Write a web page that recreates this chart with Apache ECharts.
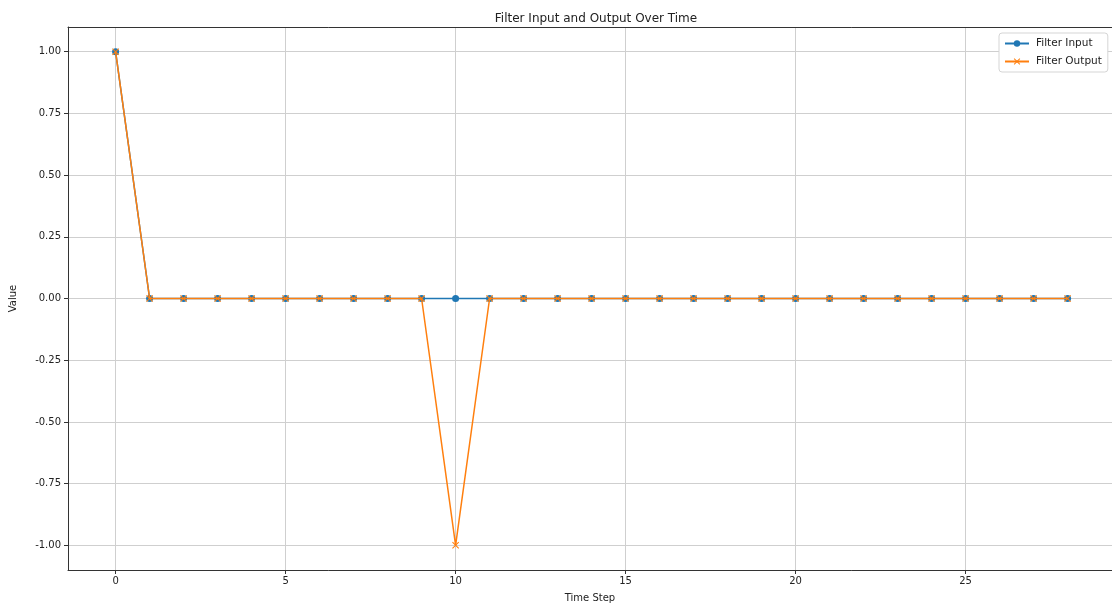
<!DOCTYPE html>
<html>
<head>
<meta charset="utf-8">
<script src="https://cdn.jsdelivr.net/npm/echarts@6/dist/echarts.min.js"></script>
<style>html,body{margin:0;padding:0;background:#fff;}#c{width:1112px;height:608px;}</style>
</head>
<body>
<div id="c"></div>
<script>
const timeSteps = [0,1,2,3,4,5,6,7,8,9,10,11,12,13,14,15,16,17,18,19,20,21,22,23,24,25,26,27,28];
const inputValues = [1,0,0,0,0,0,0,0,0,0,0,0,0,0,0,0,0,0,0,0,0,0,0,0,0,0,0,0,0];
const outputValues = [1,0,0,0,0,0,0,0,0,0,-1,0,0,0,0,0,0,0,0,0,0,0,0,0,0,0,0,0,0];
const xTicks = [0,5,10,15,20,25];
const yTicks = [-1,-0.75,-0.5,-0.25,0,0.25,0.5,0.75,1];

const font = 'DejaVu Sans';
const crossPath = 'path://M0,1L1,0L5,4L9,0L10,1L6,5L10,9L9,10L5,6L1,10L0,9L4,5Z';
const xMin = -1.4, xMax = 29.306;
const chart = echarts.init(document.getElementById('c'), null, {renderer: 'canvas'});
chart.setOption({
  animation: false,
  backgroundColor: '#fff',
  textStyle: {fontFamily: font},
  title: {
    text: 'Filter Input and Output Over Time',
    left: 591, top: 8, textAlign: 'center',
    textStyle: {fontFamily: font, fontSize: 12, fontWeight: 'normal', color: '#222'}
  },
  legend: {
    orient: 'vertical', left: 999, top: 33,
    itemWidth: 24, itemHeight: 8, itemGap: 7,
    padding: [5, 6, 5, 5],
    backgroundColor: '#fff', borderColor: '#d5d5d5', borderWidth: 1, borderRadius: 3,
    textStyle: {fontFamily: font, fontSize: 10.5, color: '#222', padding: [0,0,0,2]},
    data: ['Filter Input', 'Filter Output']
  },
  grid: {
    left: 68, top: 27, width: 1044, height: 544.5,
    show: false, containLabel: false
  },
  xAxis: [{
    type: 'value', min: xMin, max: xMax,
    name: 'Time Step', nameLocation: 'middle', nameGap: 23,
    nameTextStyle: {fontFamily: font, fontSize: 10, color: '#222', padding: [0,0,0,0]},
    axisLine: {show: true, onZero: false, lineStyle: {color: '#333', width: 1}},
    axisTick: {show: true, length: 4, customValues: xTicks, lineStyle: {color: '#333'}},
    axisLabel: {customValues: xTicks, fontSize: 10, color: '#222', margin: 6, fontFamily: font},
    splitLine: {show: true, lineStyle: {color: '#cfcfcf', width: 1}}
  }, {
    type: 'value', position: 'top', min: xMin, max: xMax,
    axisLine: {show: true, onZero: false, lineStyle: {color: '#333', width: 1}},
    axisTick: {show: false}, axisLabel: {show: false}, splitLine: {show: false}
  }],
  yAxis: {
    type: 'value', min: -1.1, max: 1.1,
    name: 'Value', nameLocation: 'middle', nameGap: 50,
    nameTextStyle: {fontFamily: font, fontSize: 10, color: '#222'},
    axisLine: {show: true, onZero: false, lineStyle: {color: '#333', width: 1}},
    axisTick: {show: true, length: 4, customValues: yTicks, lineStyle: {color: '#333'}},
    axisLabel: {customValues: yTicks, fontSize: 10, color: '#222', margin: 7, fontFamily: font,
      formatter: v => v.toFixed(2)},
    splitLine: {show: true, lineStyle: {color: '#cfcfcf', width: 1}}
  },
  series: [
    {
      name: 'Filter Input', type: 'line', z: 2, xAxisIndex: 0,
      data: timeSteps.map((t, i) => [t, inputValues[i]]),
      symbol: 'circle', symbolSize: 7, showAllSymbol: true,
      itemStyle: {color: '#1f77b4'},
      lineStyle: {color: '#1f77b4', width: 1.5}
    },
    {
      name: 'Filter Output', type: 'line', z: 3, xAxisIndex: 0,
      data: timeSteps.map((t, i) => [t, outputValues[i]]),
      symbol: crossPath, symbolSize: 7, showAllSymbol: true,
      itemStyle: {color: '#ff7f0e'},
      lineStyle: {color: '#ff7f0e', width: 1.5}
    }
  ]
});
</script>
</body>
</html>
